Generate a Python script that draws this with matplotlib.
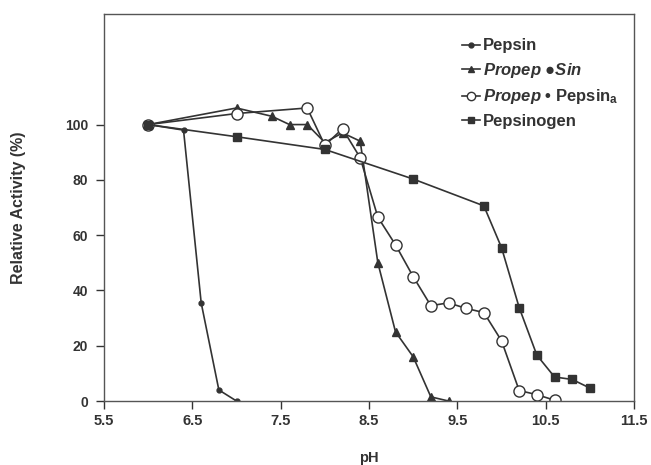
import matplotlib.pyplot as plt
from matplotlib.lines import Line2D

plt.rcParams['font.family'] = ['Liberation Sans', 'DejaVu Sans']
plt.rcParams['font.weight'] = 'bold'
plt.rcParams['mathtext.fontset'] = 'custom'
plt.rcParams['mathtext.rm'] = 'Liberation Sans:bold'
plt.rcParams['mathtext.it'] = 'Liberation Sans:italic:bold'
plt.rcParams['mathtext.bf'] = 'Liberation Sans:bold'

# data
ph_pepsin = [6.0, 6.4, 6.6, 6.8, 7.0]
act_pepsin = [100, 98, 35.5, 4, 0]

ph_sin = [6.0, 7.0, 7.4, 7.6, 7.8, 8.0, 8.2, 8.4, 8.6, 8.8, 9.0, 9.2, 9.4]
act_sin = [100, 106, 103, 100, 100, 93.5, 97, 94, 50, 25, 16, 1.5, 0]

ph_pepa = [6.0, 7.0, 7.8, 8.0, 8.2, 8.4, 8.6, 8.8, 9.0, 9.2, 9.4, 9.6, 9.8,
           10.0, 10.2, 10.4, 10.6]
act_pepa = [100, 104, 106, 92.5, 98.5, 88, 66.5, 56.5, 45, 34.5, 35.5, 33.5,
            32, 21.8, 3.8, 2.3, 0.3]

ph_ogen = [6.0, 7.0, 8.0, 9.0, 9.8, 10.0, 10.2, 10.4, 10.6, 10.8, 11.0]
act_ogen = [100, 95.6, 91, 80.3, 70.6, 55.5, 33.8, 16.6, 8.7, 7.8, 4.7]

labels = ['Pepsin',
          r'$\mathit{Propep}$ ●$\mathit{Sin}$',
          r'$\mathit{Propep}$ • Pepsin$_{\mathrm{a}}$',
          'Pepsinogen']

xticks = [5.5, 6.5, 7.5, 8.5, 9.5, 10.5, 11.5]
yticks = [0, 20, 40, 60, 80, 100]

ink = '#333333'

fig = plt.figure(figsize=(6.51, 4.65), dpi=100)
ax = fig.add_axes([0.1598, 0.1376, 0.8141, 0.8323])

ax.plot(ph_pepsin, act_pepsin, '-', color=ink, lw=1.2, marker='o', ms=3.5,
        mfc=ink, mec=ink)
ax.plot(ph_sin, act_sin, '-', color=ink, lw=1.2, marker='^', ms=5.5,
        mfc=ink, mec=ink)
ax.plot(ph_pepa, act_pepa, '-', color=ink, lw=1.2, marker='o', ms=8,
        mfc='white', mec=ink, mew=1.0)
ax.plot(ph_ogen, act_ogen, '-', color=ink, lw=1.2, marker='s', ms=6,
        mfc=ink, mec=ink)

ax.set_xlim(5.5, 11.5)
ax.set_ylim(0, 140)
ax.set_xticks(xticks)
ax.set_xticklabels([str(t) for t in xticks])
ax.set_yticks(yticks)
ax.tick_params(length=5.5, width=1, color=ink, labelcolor=ink)
ax.tick_params(axis='x', labelsize=10.5, pad=4)
ax.tick_params(axis='y', labelsize=10, pad=6)
for s in ax.spines.values():
    s.set_color('#555555')
    s.set_linewidth(1.0)

ax.set_xlabel('pH', fontsize=10.5, color=ink, fontweight='bold', va='center')
ax.set_ylabel('Relative Activity (%)', fontsize=11.5, color=ink,
              fontweight='bold', va='center')
ax.xaxis.set_label_coords(0.5, -0.147)
ax.yaxis.set_label_coords(-0.162, 0.5)

handles = [
    Line2D([], [], color=ink, lw=1.2, marker='o', ms=3.5, mfc=ink, mec=ink),
    Line2D([], [], color=ink, lw=1.2, marker='^', ms=5, mfc=ink, mec=ink),
    Line2D([], [], color=ink, lw=1.2, marker='o', ms=6, mfc='white', mec=ink),
    Line2D([], [], color=ink, lw=1.2, marker='s', ms=5, mfc=ink, mec=ink),
]
leg = ax.legend(handles, labels, loc='upper left', bbox_to_anchor=(0.675, 0.937),
                frameon=False, fontsize=12, handlelength=1.1, handletextpad=0.15,
                labelspacing=0.45, borderaxespad=0, borderpad=0)
for t in leg.get_texts():
    t.set_color(ink)
    t.set_fontweight('bold')

fig.savefig('out.png', dpi=100)
